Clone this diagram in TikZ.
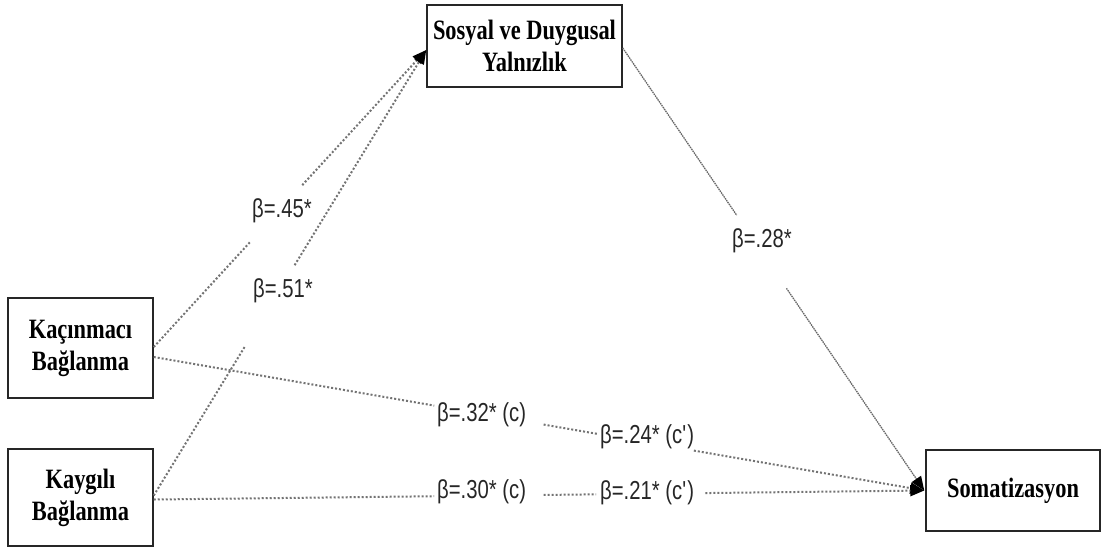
\documentclass[tikz,border=0pt]{standalone}
\usepackage{fontspec}
\newfontfamily\boxfont[FakeStretch=0.8]{Liberation Serif}
\newfontfamily\lblfont[FakeStretch=0.78]{Liberation Sans}
\usetikzlibrary{arrows.meta,calc}
\begin{document}
\begin{tikzpicture}[x=1pt,y=-1pt,
  box/.style={draw=black!85, line width=1.5pt, fill=white, align=center,
    inner sep=0pt, font=\boxfont\bfseries\fontsize{28}{32}\selectfont},
  lbl/.style={font=\lblfont\fontsize{26}{26}\selectfont, inner sep=0pt, text=black!85},
  dotline/.style={draw=black!55, line width=2pt, dash pattern=on 2pt off 2pt},
  thinline/.style={draw=black!60, line width=1.3pt, dash pattern=on 1.5pt off 0.8pt},
  arr/.style={-{Triangle[length=14pt,width=11pt,black]}}]
\useasboundingbox (0,0) rectangle (1103,552);

\node[box, minimum width=195, minimum height=82] (sos) at (524.5,46) {Sosyal ve Duygusal\\Yalnızlık};
\node[box, minimum width=145, minimum height=100] (kac) at (80.5,348) {Kaçınmacı\\Bağlanma};
\node[box, minimum width=145, minimum height=97] (kay) at (80.5,497.5) {Kaygılı\\Bağlanma};
\node[box, minimum width=174, minimum height=81] (som) at (1013,490.5) {Somatizasyon};

\coordinate (kacA) at ([yshift=1pt]kac.east);
\coordinate (kacD) at ([yshift=-9pt]kac.east);
\coordinate (kayB) at ([yshift=2pt]kay.east);
\coordinate (kayE) at ([yshift=-2pt]kay.east);
\coordinate (sosIn) at ([yshift=-4pt]sos.west);
\coordinate (sosOut) at ([yshift=-2pt]sos.east);
\coordinate (somIn) at ([xshift=-1pt]som.west);

% Kacinmaci -> Sosyal
\draw[dotline] (kacA) -- ($(kacA)!0.354!(sosIn)$);
\draw[dotline, arr] ($(kacA)!0.545!(sosIn)$) -- (sosIn);
% Kaygili -> Sosyal
\draw[dotline] (kayB) -- ($(kayB)!0.337!(sosIn)$);
\draw[dotline, arr] ($(kayB)!0.517!(sosIn)$) -- (sosIn);
% Sosyal -> Somatizasyon
\draw[thinline] (sosOut) -- ($(sosOut)!0.378!(somIn)$);
\draw[thinline, arr] ($(sosOut)!0.543!(somIn)$) -- (somIn);
% Kacinmaci -> Somatizasyon
\draw[dotline] (kacD) -- ($(kacD)!0.364!(somIn)$);
\draw[dotline] ($(kacD)!0.506!(somIn)$) -- ($(kacD)!0.577!(somIn)$);
\draw[dotline, arr] ($(kacD)!0.701!(somIn)$) -- (somIn);
% Kaygili -> Somatizasyon
\draw[dotline] (kayE) -- ($(kayE)!0.364!(somIn)$);
\draw[dotline] ($(kayE)!0.506!(somIn)$) -- ($(kayE)!0.574!(somIn)$);
\draw[dotline, arr] ($(kayE)!0.716!(somIn)$) -- (somIn);

\node[lbl, anchor=base west] (l45) at (252,217) {β=.45*};
\node[lbl, anchor=base west] (l51) at (253,297) {β=.51*};
\node[lbl, anchor=base west] (l28) at (732,247) {β=.28*};
\node[lbl, anchor=base west] (l32) at (437,421) {β=.32* (c)};
\node[lbl, anchor=base west] (l24) at (600,443) {β=.24* (c\textquotesingle)};
\node[lbl, anchor=base west] (l30) at (437,498) {β=.30* (c)};
\node[lbl, anchor=base west] (l21) at (600,499) {β=.21* (c\textquotesingle)};
\end{tikzpicture}
\end{document}
